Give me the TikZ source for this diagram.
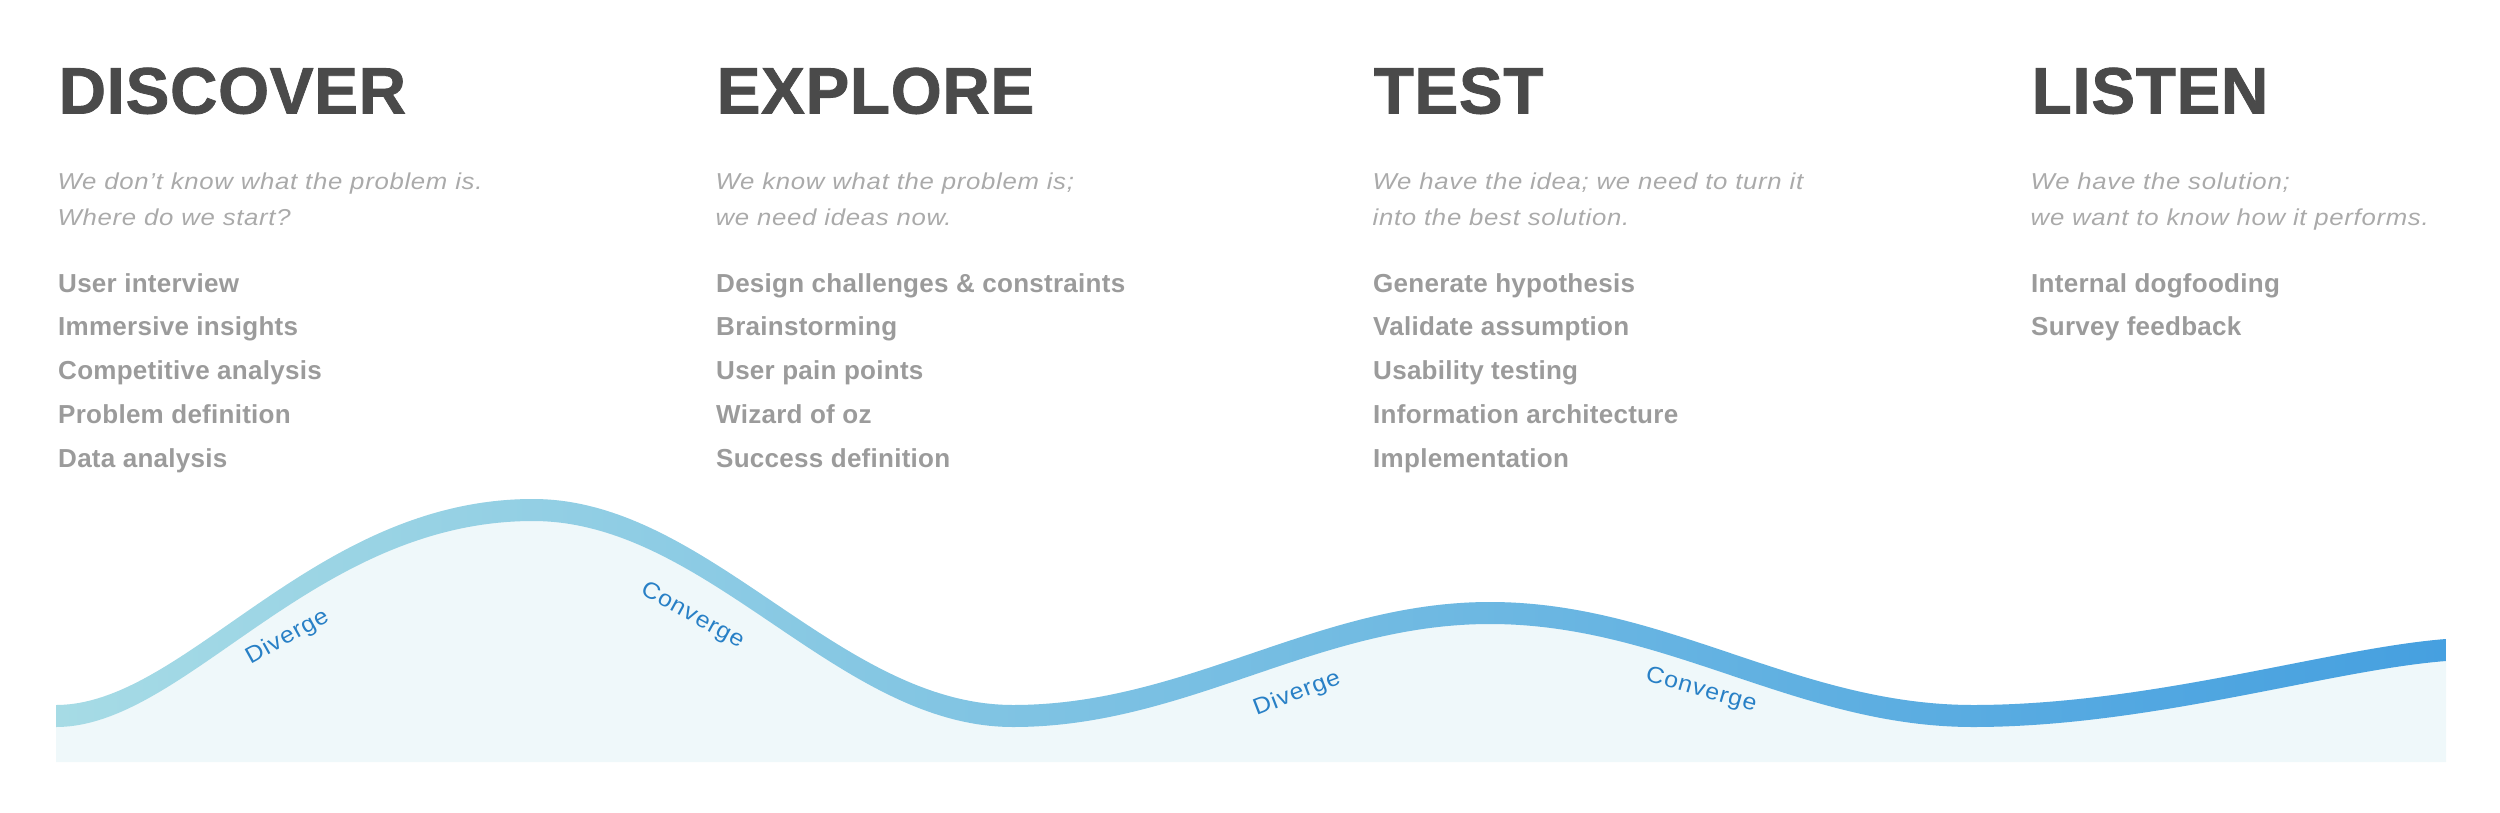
\documentclass[tikz,border=0pt]{standalone}
\usepackage{fontspec}
\setmainfont{Liberation Sans}
\newfontfamily\headfont[LetterSpace=1.0,FakeBold=1.2]{Liberation Sans}
\newfontfamily\itemfont[LetterSpace=1.0]{Liberation Sans}
\newfontfamily\subfont[FakeStretch=1.12,LetterSpace=3.0]{Liberation Sans}
\newfontfamily\labfont[FakeStretch=1.08,LetterSpace=4.0]{Liberation Sans}
\definecolor{headc}{RGB}{74,74,74}
\definecolor{itemc}{RGB}{155,155,155}
\definecolor{subc}{RGB}{170,170,170}
\definecolor{labc}{RGB}{40,128,198}
\definecolor{fillc}{RGB}{239,248,250}
\definecolor{bandL}{RGB}{166,219,229}
\definecolor{bandR}{RGB}{70,160,224}
\tikzset{
  title/.style={anchor=base west,inner sep=0pt,text=headc,font=\headfont\bfseries\fontsize{18.66pt}{20pt}\selectfont},
  subline/.style={anchor=base west,inner sep=0pt,text=subc,font=\subfont\itshape\fontsize{6.54pt}{8pt}\selectfont},
  item/.style={anchor=base west,inner sep=0pt,text=itemc,font=\itemfont\bfseries\fontsize{7.40pt}{9pt}\selectfont},
  wavelab/.style={anchor=base west,inner sep=0pt,text=labc,font=\labfont\fontsize{6.54pt}{8pt}\selectfont}
}
\begin{document}
\begin{tikzpicture}[x=0.01cm,y=-0.01cm]
\useasboundingbox (0,0) rectangle (2500,812);
% ---- wave area ----
\fill[fillc] (56,705) .. controls (186,705) and (313,499) .. (533,499)
  .. controls (708,499) and (838,705) .. (1013,705)
  .. controls (1187,705) and (1316,602) .. (1490,602)
  .. controls (1666,602) and (1797,705) .. (1973,705)
  .. controls (2150,705) and (2330,648) .. (2446,639)
  -- (2446,762) -- (56,762) -- cycle;
\path[left color=bandL,right color=bandR] (56,705) .. controls (186,705) and (313,499) .. (533,499)
  .. controls (708,499) and (838,705) .. (1013,705)
  .. controls (1187,705) and (1316,602) .. (1490,602)
  .. controls (1666,602) and (1797,705) .. (1973,705)
  .. controls (2150,705) and (2330,648) .. (2446,639)
  -- (2446,661)
  .. controls (2330,670) and (2150,727) .. (1973,727)
  .. controls (1797,727) and (1666,624) .. (1490,624)
  .. controls (1316,624) and (1187,727) .. (1013,727)
  .. controls (838,727) and (708,521) .. (533,521)
  .. controls (313,521) and (186,727) .. (56,727) -- cycle;
\node[wavelab,rotate=29] (div1) at (250,665) {Diverge};
\node[wavelab,rotate=-29] (con1) at (639,593) {Converge};
\node[wavelab,rotate=21] (div2) at (1256,716) {Diverge};
\node[wavelab,rotate=-16] (con2) at (1644,680) {Converge};
% ---- columns ----
\node[title] (t1) at (58,113.5) {DISCOVER};
\node[subline] (s1a) at (57,189) {We don’t know what the problem is.};
\node[subline] (s1b) at (57,225) {Where do we start?};
\node[item] (i1a) at (57.5,292) {User interview};
\node[item] (i1b) at (57.5,335.75) {Immersive insights};
\node[item] (i1c) at (57.5,379.5) {Competitive analysis};
\node[item] (i1d) at (57.5,423.25) {Problem definition};
\node[item] (i1e) at (57.5,467) {Data analysis};

\node[title] (t2) at (716,113.5) {EXPLORE};
\node[subline] (s2a) at (715,189) {We know what the problem is;};
\node[subline] (s2b) at (715,225) {we need ideas now.};
\node[item] (i2a) at (715.5,292) {Design challenges \& constraints};
\node[item] (i2b) at (715.5,335.75) {Brainstorming};
\node[item] (i2c) at (715.5,379.5) {User pain points};
\node[item] (i2d) at (715.5,423.25) {Wizard of oz};
\node[item] (i2e) at (715.5,467) {Success definition};

\node[title] (t3) at (1373,113.5) {TEST};
\node[subline] (s3a) at (1372,189) {We have the idea; we need to turn it};
\node[subline] (s3b) at (1372,225) {into the best solution.};
\node[item] (i3a) at (1372.5,292) {Generate hypothesis};
\node[item] (i3b) at (1372.5,335.75) {Validate assumption};
\node[item] (i3c) at (1372.5,379.5) {Usability testing};
\node[item] (i3d) at (1372.5,423.25) {Information architecture};
\node[item] (i3e) at (1372.5,467) {Implementation};

\node[title] (t4) at (2031,113.5) {LISTEN};
\node[subline] (s4a) at (2030,189) {We have the solution;};
\node[subline] (s4b) at (2030,225) {we want to know how it performs.};
\node[item] (i4a) at (2030.5,292) {Internal dogfooding};
\node[item] (i4b) at (2030.5,335.75) {Survey feedback};
\end{tikzpicture}
\end{document}
